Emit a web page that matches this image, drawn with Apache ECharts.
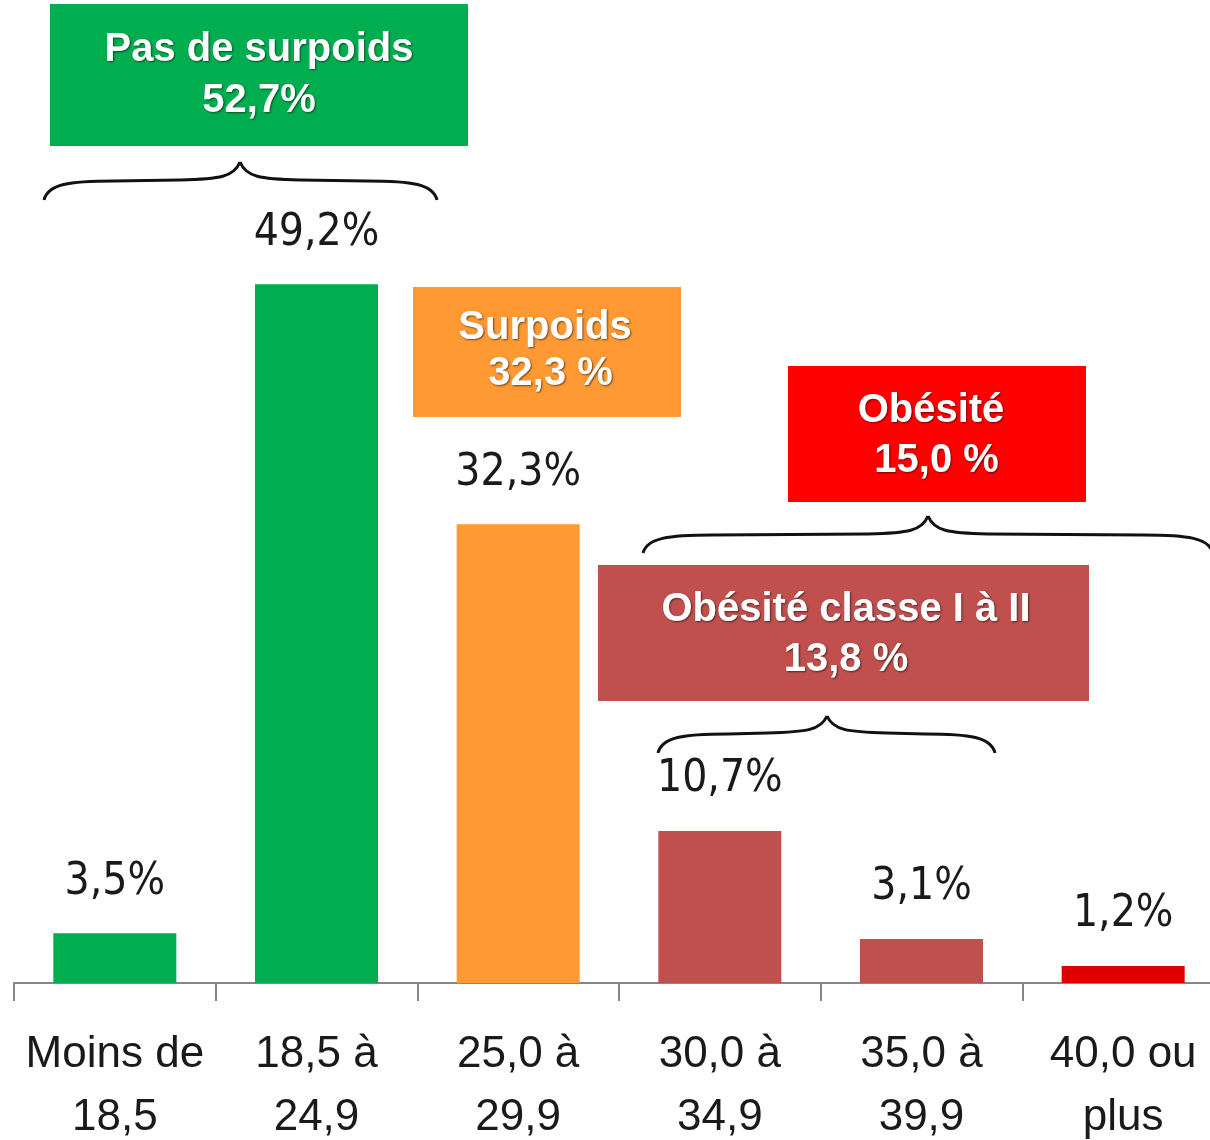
<!DOCTYPE html>
<html>
<head>
<meta charset="utf-8">
<script src="https://cdn.jsdelivr.net/npm/echarts@6/dist/echarts.min.js"></script>
<style>
  html, body { margin: 0; padding: 0; background: #fff; }
  #main { width: 1210px; height: 1140px; }
</style>
</head>
<body>
<div id="main"></div>
<script>
// IMC classes and share of population (%)
var categories = ['Moins de\n18,5', '18,5 à\n24,9', '25,0 à\n29,9', '30,0 à\n34,9', '35,0 à\n39,9', '40,0 ou\nplus'];
var values = [3.5, 49.2, 32.3, 10.7, 3.1, 1.2];
// summary boxes
var boxTexts = ['Pas de surpoids\n52,7%', 'Surpoids\n 32,3 %', 'Obésité\n 15,0 %', 'Obésité classe I à II\n13,8 %'];

var barColors = ['#00AE4F', '#00AE4F', '#FF9933', '#C0504D', '#C0504D', '#E00000'];
var boxColors = ['#00AE4F', '#FF9933', '#FF0000', '#C0504D'];

var myChart = echarts.init(document.getElementById('main'));

function fmt(v) {
    return v.toFixed(1).replace('.', ',') + '%';
}

var lineStyle = { fill: null, stroke: '#111', lineWidth: 3 };

// curly brace made of curves: ends at y1, flat at yf, tip at (xt, yt)
function brace(x0, x1, y1, yf, xt, yt) {
    var segs = [
        { type: 'bezierCurve', shape: { x1: x0, y1: y1, cpx1: x0 + 4, cpy1: yf + 3, cpx2: x0 + 25, cpy2: yf, x2: x0 + 70, y2: yf } },
        { type: 'line', shape: { x1: x0 + 70, y1: yf, x2: xt - 60, y2: yf - 1 } },
        { type: 'bezierCurve', shape: { x1: xt - 60, y1: yf - 1, cpx1: xt - 20, cpy1: yf - 2, cpx2: xt - 6, cpy2: yf - 4, x2: xt, y2: yt } },
        { type: 'bezierCurve', shape: { x1: xt, y1: yt, cpx1: xt + 6, cpy1: yf - 4, cpx2: xt + 20, cpy2: yf - 2, x2: xt + 60, y2: yf - 1 } },
        { type: 'line', shape: { x1: xt + 60, y1: yf - 1, x2: x1 - 70, y2: yf } },
        { type: 'bezierCurve', shape: { x1: x1 - 70, y1: yf, cpx1: x1 - 25, cpy1: yf, cpx2: x1 - 4, cpy2: yf + 3, x2: x1, y2: y1 } }
    ];
    segs.forEach(function (s) { s.style = lineStyle; s.z = 10; });
    return segs;
}

var boxes = [
    { x: 50, y: 4, w: 418, h: 142, cx: 259, cy: 75, lh: 51 },
    { x: 413, y: 287, w: 268, h: 130, cx: 545, cy: 351, lh: 46 },
    { x: 788, y: 366, w: 298, h: 136, cx: 931, cy: 436, lh: 50 },
    { x: 598, y: 565, w: 491, h: 136, cx: 846, cy: 635, lh: 50 }
];

var graphics = [];
boxes.forEach(function (b, i) {
    graphics.push({
        type: 'rect', shape: { x: b.x, y: b.y, width: b.w, height: b.h },
        style: { fill: boxColors[i] }, z: 10
    });
    graphics.push({
        type: 'text', x: b.cx, y: b.cy, z: 11,
        style: {
            text: boxTexts[i], fill: '#fff', align: 'center', verticalAlign: 'middle',
            font: 'bold 40px "Liberation Sans", Arial, sans-serif', lineHeight: b.lh,
            textShadowColor: 'rgba(0,0,0,0.55)', textShadowBlur: 2, textShadowOffsetX: 1, textShadowOffsetY: 1
        }
    });
});
[
    [44, 437, 200, 181, 240, 162],
    [643, 1213, 553, 535, 928, 516],
    [658, 995, 753, 734, 827, 716]
].forEach(function (p) {
    graphics = graphics.concat(brace.apply(null, p));
});

var option = {
    animation: false,
    grid: { left: 14, right: -14, top: 3, bottom: 157, outerBoundsMode: 'none', containLabel: false },
    xAxis: {
        type: 'category',
        data: categories,
        axisLine: { lineStyle: { color: '#868686', width: 2 } },
        axisTick: { show: true, length: 18, lineStyle: { color: '#868686', width: 2 } },
        axisLabel: {
            interval: 0, margin: 40, color: '#1a1a1a', fontSize: 44, lineHeight: 63,
            fontFamily: '"Liberation Sans", Arial, sans-serif'
        }
    },
    yAxis: {
        type: 'value', min: 0, max: 69, show: false,
        splitLine: { show: false }
    },
    series: [{
        type: 'bar',
        barWidth: 123,
        data: values.map(function (v, i) {
            return { value: v, itemStyle: { color: barColors[i] } };
        }),
        label: {
            show: true, position: 'top', distance: 29,
            formatter: function (p) { return fmt(p.value); },
            color: '#1a1a1a', fontSize: 44,
            fontFamily: '"Liberation Sans Narrow", "DejaVu Sans Condensed", sans-serif'
        }
    }],
    graphic: graphics
};

myChart.setOption(option);
window.onresize = myChart.resize;
</script>
</body>
</html>
